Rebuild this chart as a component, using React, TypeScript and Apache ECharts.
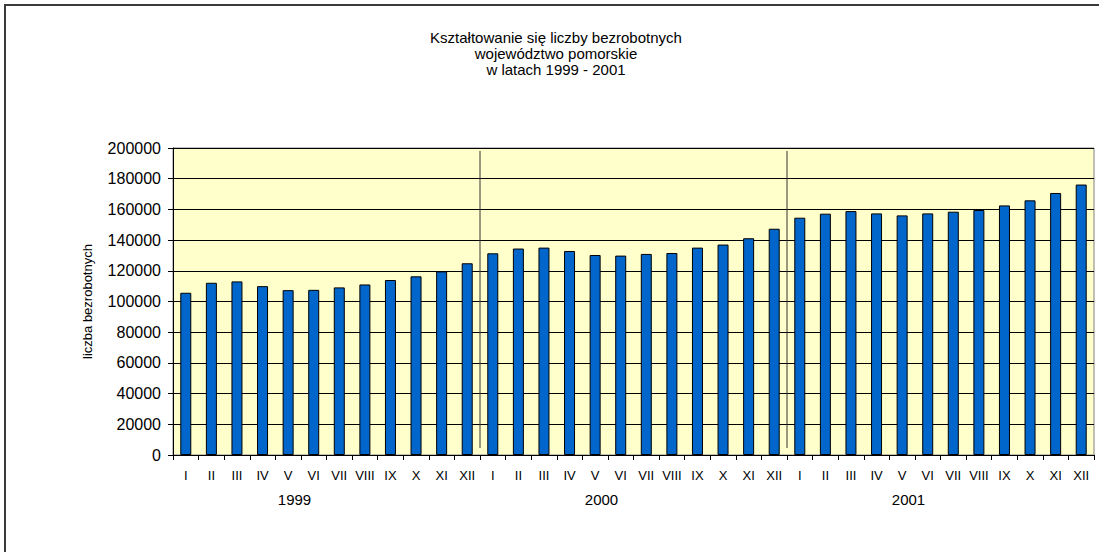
import React, { useEffect, useRef } from "react";
import * as echarts from "echarts";

const months = ["I", "II", "III", "IV", "V", "VI", "VII", "VIII", "IX", "X", "XI", "XII"];
const years = ["1999", "2000", "2001"];
const categories = years.flatMap((y) => months.map((m) => `${m}\n${y}`));

const values1999 = [105700, 112200, 113100, 110000, 107400, 107600, 109200, 111100, 114000, 116400, 119600, 124900];
const values2000 = [131400, 134500, 135100, 132900, 130300, 129900, 131000, 131600, 135100, 137100, 141200, 147400];
const values2001 = [154600, 157200, 158900, 157400, 156100, 157400, 158500, 159600, 162600, 165900, 170700, 176200];
const values = [...values1999, ...values2000, ...values2001];

const separatorIndices = [11, 23];

const titleText = "Kształtowanie się liczby bezrobotnych\nwojewództwo pomorskie\nw latach 1999 - 2001";
const yAxisName = "liczba bezrobotnych";

const FONT = "'Liberation Sans', Arial, Helvetica, sans-serif";

export default function App() {
  const ref = useRef<HTMLDivElement>(null);

  useEffect(() => {
    document.body.style.margin = "0";
    if (!ref.current) return;
    const chart = echarts.init(ref.current, undefined, { renderer: "svg" });
    chart.setOption({
      animation: false,
      backgroundColor: "#ffffff",
      textStyle: { fontFamily: FONT },
      graphic: [
        {
          type: "rect",
          shape: { x: 5, y: 5, width: 1200, height: 700 },
          style: { fill: "none", stroke: "#3a3a3a", lineWidth: 2 },
          silent: true,
        },
        {
          type: "text",
          x: 556,
          y: 29,
          style: {
            text: titleText,
            font: `15px ${FONT}`,
            fill: "#000",
            align: "center",
            verticalAlign: "top",
            lineHeight: 16,
          },
        },
      ],
      grid: {
        left: 173,
        right: 5,
        top: 148,
        bottom: 97,
        show: true,
        backgroundColor: "#FFFFCC",
        borderColor: "#808080",
        borderWidth: 1,
        containLabel: false,
      },
      xAxis: [
        {
          type: "category",
          data: categories,
          position: "bottom",
          axisLine: { show: true, lineStyle: { color: "#000", width: 1 } },
          axisTick: { show: true, length: 5, lineStyle: { color: "#000" } },
          axisLabel: {
            interval: 0,
            margin: 14,
            fontSize: 13,
            color: "#000",
            formatter: (v: string) => v.split("\n")[0],
          },
          splitLine: { show: false },
        },
        {
          type: "category",
          data: years,
          position: "bottom",
          gridIndex: 0,
          axisLine: { show: false },
          axisTick: { show: false },
          axisLabel: {
            margin: 37,
            fontSize: 15,
            color: "#000",
            padding: [0, 64, 0, 0],
          },
          splitLine: { show: false },
        },
      ],
      yAxis: {
        type: "value",
        min: 0,
        max: 200000,
        interval: 20000,
        name: yAxisName,
        nameLocation: "middle",
        nameGap: 79,
        nameRotate: 90,
        nameTextStyle: { fontSize: 13, color: "#000" },
        axisLine: { show: true, lineStyle: { color: "#000", width: 1 } },
        axisTick: { show: true, length: 5, lineStyle: { color: "#000" } },
        axisLabel: { margin: 12, fontSize: 16, color: "#000", formatter: (v: number) => String(v) },
        splitLine: { show: true, lineStyle: { color: "#000", width: 1 } },
      },
      series: [
        {
          type: "bar",
          xAxisIndex: 0,
          data: values,
          barWidth: 11,
          itemStyle: { color: "#0066CC", borderColor: "#000", borderWidth: 1 },
        },
        {
          type: "custom",
          xAxisIndex: 0,
          data: separatorIndices.map((i) => [i, 0]),
          silent: true,
          z: 5,
          renderItem: (params: any, api: any) => {
            const idx = api.value(0);
            const base = api.coord([idx, 0]);
            const top = api.coord([idx, 200000]);
            const band = api.size([1, 0])[0];
            const x = base[0] + band / 2;
            return {
              type: "line",
              shape: { x1: x, y1: top[1] + 3, x2: x, y2: base[1] - 7 },
              style: { stroke: "#333", lineWidth: 1 },
            };
          },
        },
      ],
    });
    return () => chart.dispose();
  }, []);

  return <div ref={ref} style={{ width: 1099, height: 552 }} />;
}
